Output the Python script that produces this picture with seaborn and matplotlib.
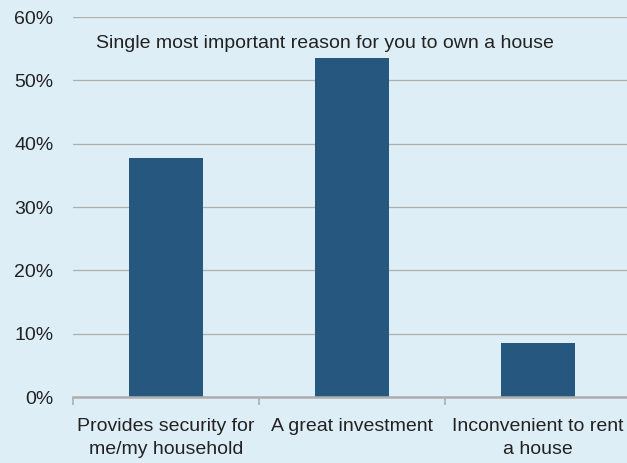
import pandas as pd
import seaborn as sns
import matplotlib.pyplot as plt
from matplotlib.ticker import FixedLocator, PercentFormatter

# Data
reasons = ['Provides security for\nme/my household', 'A great investment', 'Inconvenient to rent\na house']
shares = [37.7, 53.5, 8.5]
y_ticks = [0, 10, 20, 30, 40, 50, 60]
title = 'Single most important reason for you to own a house'

bg = '#DEEEF7'
bar_color = '#26577F'
grid_color = '#AEAEAE'
text_color = '#222222'

df = pd.DataFrame({'Reason': reasons, 'Share': shares})

sns.set_style('white')
plt.rcParams['font.family'] = ['Liberation Sans', 'DejaVu Sans']

fig = plt.figure(figsize=(6.27, 4.63), dpi=100, facecolor=bg)
ax = fig.add_axes([73 / 627, 1 - 397 / 463, (631 - 73) / 627, (397 - 17) / 463])
ax.set_facecolor(bg)

sns.barplot(data=df, x='Reason', y='Share', color=bar_color, width=0.4,
            saturation=1, linewidth=0, ax=ax, zorder=3)

ax.set_ylim(0, 60)
ax.set_xlim(-0.5, 2.5)
ax.set_yticks(y_ticks)
ax.yaxis.set_major_formatter(PercentFormatter(decimals=0))
ax.grid(axis='y', color=grid_color, linewidth=0.9, zorder=0)
ax.set_axisbelow(True)

for s in ['left', 'right', 'top']:
    ax.spines[s].set_visible(False)
ax.spines['bottom'].set_color(grid_color)
ax.spines['bottom'].set_linewidth(1.8)
ax.spines['bottom'].set_zorder(4)

ax.tick_params(axis='y', length=0, pad=14, labelsize=14, labelcolor=text_color)
ax.tick_params(axis='x', which='major', length=0, pad=15, labelsize=14, labelcolor=text_color)
ax.xaxis.set_minor_locator(FixedLocator([-0.5, 0.5, 1.5, 2.5]))
ax.tick_params(axis='x', which='minor', bottom=True, length=6, width=1.2,
               color=grid_color, direction='out')
for lbl in ax.get_xticklabels():
    lbl.set_linespacing(1.5)

ax.set_xlabel('')
ax.set_ylabel('')

fig.text(96 / 627, 1 - 43 / 463, title, fontsize=14, color=text_color,
         ha='left', va='center')

plt.savefig('out.png', dpi=100, facecolor=bg)
